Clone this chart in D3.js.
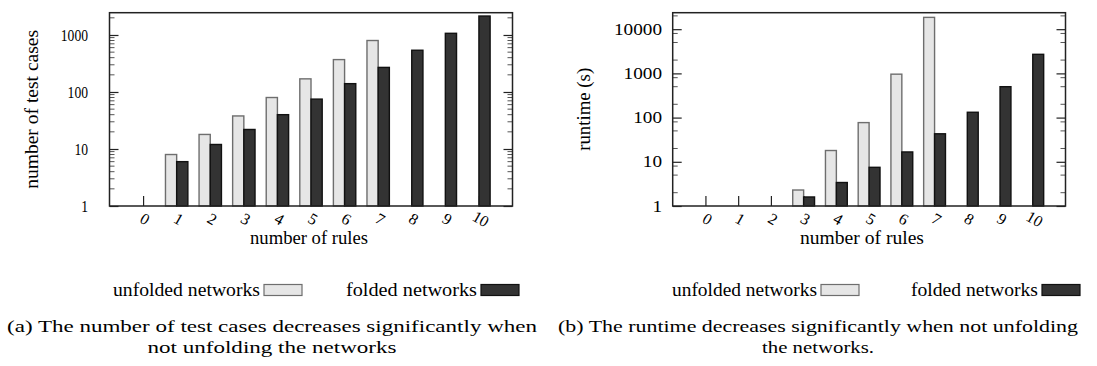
<!DOCTYPE html>
<html>
<head>
<meta charset="utf-8">
<script src="https://cdn.jsdelivr.net/npm/d3@7"></script>
<style>
  body { margin: 0; background: #fff; }
</style>
</head>
<body>
<div id="chart-area"></div>
<script>
// Data
const rules = ["0", "1", "2", "3", "4", "5", "6", "7", "8", "9", "10"]
const seriesNames = ["unfolded networks", "folded networks"]
const testUnfolded = [null, 8, 18, 38, 80, 170, 370, 800, null, null, null]
const testFolded = [null, 6, 12, 22, 40, 75, 140, 270, 540, 1070, 2150]
const runUnfolded = [null, null, null, 2.3, 18, 77, 960, 18500, null, null, null]
const runFolded = [null, null, null, 1.6, 3.4, 7.5, 16.7, 43, 132, 500, 2700]
const testTicks = [1, 10, 100, 1000]
const runTicks = [1, 10, 100, 1000, 10000]
const captionA = ["(a) The number of test cases decreases significantly when", "not unfolding the networks"]
const captionB = ["(b) The runtime decreases significantly when not unfolding", "the networks."]

const FILL = ["#e6e6e6", "#333333"]
const STROKE = ["#6e6e6e", "#111111"]

// pick a Times-like font that is really installed
function pickFont() {
    const ctx = document.createElement("canvas").getContext("2d")
    const probe = "number of test cases 0123456789"
    ctx.font = "40px monospace"
    const base = ctx.measureText(probe).width
    const names = ["Liberation Serif", "Times New Roman", "Tinos", "Nimbus Roman", "FreeSerif", "DejaVu Serif"]
    for (const n of names) {
        ctx.font = `40px "${n}", monospace`
        if (Math.abs(ctx.measureText(probe).width - base) > 1) return n
    }
    return "serif"
}
const FONT = `"${pickFont()}", serif`

const svg = d3.select("#chart-area").append("svg")
    .attr("width", 1097)
    .attr("height", 366)
    .style("font-family", FONT)

svg.append("rect").attr("width", 1097).attr("height", 366).attr("fill", "#fff")

function fitText(sel, w) {
    sel.attr("textLength", w).attr("lengthAdjust", "spacingAndGlyphs")
}

function drawPanel(p) {
    const x = d3.scaleLinear().domain([-1, 11]).range([p.left, p.right])
    const y = d3.scaleLog().domain([1, p.yMax]).range([p.bottom, p.top])

    const g = svg.append("g").attr("font-family", FONT)

    // Minor ticks (left & right, inward)
    const minors = []
    p.majors.forEach(m => p.minorSteps.forEach(k => {
        if (m * k < p.yMax) minors.push(m * k)
    }))
    g.selectAll(".minor")
        .data(minors.flatMap(v => [[p.left, 5, v], [p.right, -5, v]]))
        .enter().append("line")
        .attr("x1", d => d[0]).attr("x2", d => d[0] + d[1])
        .attr("y1", d => y(d[2])).attr("y2", d => y(d[2]))
        .attr("stroke", "#555").attr("stroke-width", 1)

    // Y axis (major ticks inward) left & right
    g.append("g")
        .attr("transform", `translate(${p.left},0)`)
        .call(d3.axisRight(y).tickValues(p.majors).tickSize(9).tickFormat(""))
        .call(a => a.select(".domain").remove())
    g.append("g")
        .attr("transform", `translate(${p.right},0)`)
        .call(d3.axisLeft(y).tickValues(p.majors).tickSize(9).tickFormat(""))
        .call(a => a.select(".domain").remove())
    g.selectAll(".tick line").attr("stroke", "#222").attr("stroke-width", 1.2)

    // Y tick labels
    g.selectAll(".ylab")
        .data(p.majors)
        .enter().append("text")
        .attr("x", p.labelX)
        .attr("y", d => y(d))
        .attr("dy", "0.35em")
        .attr("text-anchor", "end")
        .attr("font-size", p.yTickSize + "px")
        .each(function(d) { fitText(d3.select(this), String(d).length * p.digitW) })
        .text(d => d)

    // X ticks inward from bottom
    const xt = g.append("g")
        .attr("transform", `translate(0,${p.bottom})`)
        .call(d3.axisTop(x).tickValues(d3.range(0, 11)).tickSize(10).tickFormat(""))
    xt.select(".domain").remove()
    xt.selectAll(".tick line").attr("stroke", "#222").attr("stroke-width", 1.2)

    // Bars
    const bw = 1 / 3
    p.series.forEach((vals, si) => {
        g.selectAll(".bar" + si)
            .data(vals.map((v, i) => ({ i, v })).filter(d => d.v != null))
            .enter().append("rect")
            .attr("x", d => x(d.i - bw + si * bw))
            .attr("width", d => x(bw) - x(0))
            .attr("y", d => y(d.v))
            .attr("height", d => p.bottom - y(d.v))
            .attr("fill", FILL[si])
            .attr("stroke", STROKE[si])
            .attr("stroke-width", 1.4)
    })

    // Frame
    g.append("rect")
        .attr("x", p.left).attr("y", p.top)
        .attr("width", p.right - p.left).attr("height", p.bottom - p.top)
        .attr("fill", "none").attr("stroke", "#222").attr("stroke-width", 1.5)

    // X tick labels, rotated
    g.selectAll(".xlab")
        .data(rules)
        .enter().append("text")
        .attr("transform", (d, i) => `translate(${x(i) + 2},${p.bottom + 13}) rotate(30)`)
        .attr("text-anchor", "middle")
        .attr("dy", "0.35em")
        .attr("font-size", "16px")
        .each(function(d) { fitText(d3.select(this), d.length * 8) })
        .text(d => d)

    // Axis labels
    g.append("text")
        .attr("x", p.xLabelX)
        .attr("y", 244)
        .attr("text-anchor", "middle")
        .attr("font-size", "19px")
        .call(fitText, p.xLabelW)
        .text("number of rules")
    g.append("text")
        .attr("transform", `translate(${p.yLabelX},${(p.top + p.bottom) / 2}) rotate(-90)`)
        .attr("text-anchor", "middle")
        .attr("font-size", "19px")
        .call(fitText, p.yLabelW)
        .text(p.yLabel)

    // Legend
    seriesNames.forEach((name, si) => {
        const l = p.legend[si]
        g.append("text")
            .attr("x", l[0]).attr("y", 296)
            .attr("text-anchor", "start")
            .attr("font-size", "18px")
            .call(fitText, l[1] - l[0])
            .text(name)
        g.append("rect")
            .attr("x", l[1] + 4).attr("y", 284.5)
            .attr("width", 38).attr("height", 11)
            .attr("fill", FILL[si]).attr("stroke", STROKE[si]).attr("stroke-width", 1.2)
    })

    // Caption
    g.append("text")
        .attr("x", p.capX).attr("y", 332)
        .attr("text-anchor", "middle")
        .attr("font-size", "17.5px")
        .call(fitText, p.capW[0])
        .text(p.caption[0])
    g.append("text")
        .attr("x", p.capX).attr("y", 353)
        .attr("text-anchor", "middle")
        .attr("font-size", "17.5px")
        .call(fitText, p.capW[1])
        .text(p.caption[1])
}

drawPanel({
    left: 109.5, right: 512.5, top: 12.7, bottom: 206,
    yMax: 2460, majors: testTicks, minorSteps: [2, 3, 4, 5, 6, 7, 8, 9],
    labelX: 88, yTickSize: 16, digitW: 6.8,
    series: [testUnfolded, testFolded],
    xLabelX: 309, xLabelW: 118, yLabelX: 38, yLabelW: 159, yLabel: "number of test cases",
    legend: [[113, 260], [346, 477]],
    caption: captionA, capX: 272, capW: [530, 249]
})

drawPanel({
    left: 672.7, right: 1065.5, top: 12.7, bottom: 206,
    yMax: 23600, majors: runTicks, minorSteps: [2, 5, 8],
    labelX: 662, yTickSize: 16, digitW: 9.6,
    series: [runUnfolded, runFolded],
    xLabelX: 862, xLabelW: 124, yLabelX: 590, yLabelW: 83, yLabel: "runtime (s)",
    legend: [[672, 817], [911, 1038]],
    caption: captionB, capX: 818, capW: [520, 112]
})
</script>
</body>
</html>
